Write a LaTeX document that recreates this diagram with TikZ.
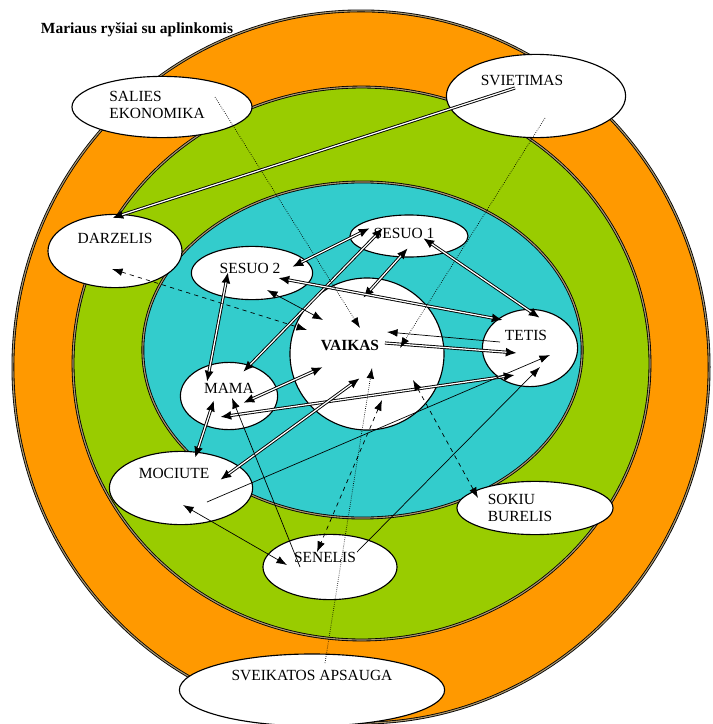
\documentclass[tikz,border=0pt]{standalone}
\usepackage{fontspec}
\setmainfont{Liberation Serif}
\usetikzlibrary{positioning,calc,shapes.geometric,arrows.meta}
\definecolor{ringorange}{RGB}{255,153,0}
\definecolor{ringgreen}{RGB}{153,204,0}
\definecolor{ringcyan}{RGB}{51,204,204}
\definecolor{ringseam}{RGB}{170,150,110}
\tikzset{bubble/.style={draw, thick, ellipse, fill=white, inner sep=0pt},
% the rings get a double border like in the original drawing
ring/.style={draw, line width=0.6pt, double=ringseam, double distance=0.8pt},
line/.style={line width=0.5pt, >={Latex[length=7.5pt,width=5.5pt]}},
% the double arrows: a thick black line with a white core, the core stops short of the tips
twin/.style={line width=2.2pt, >={Latex[length=8pt,width=6.5pt]},
  postaction={draw=white, line width=0.9pt, arrows=-, shorten >=7.5pt, shorten <=#1}},
twin/.default=7.5pt
}
\begin{document}
\begin{tikzpicture}[x=0.025cm, y=-0.025cm, font=\fontsize{11}{12.5}\selectfont]
  \useasboundingbox (0,0) rectangle (712,724);
  \draw[ring, fill=ringorange] (361,367) ellipse [x radius=8.7cm, y radius=8.9cm];
  \draw[ring, fill=ringgreen] (361.5,363.5) ellipse [x radius=7.21cm, y radius=6.91cm];
  \draw[ring, fill=ringcyan] (362.5,350) ellipse [x radius=5.49cm, y radius=4.2cm];
  \node[anchor=west, font=\fontsize{11}{13}\selectfont\bfseries] (title) at (36,30) {Mariaus ryšiai su aplinkomis};
  \node[bubble, minimum width=4.5cm, minimum height=1.53cm, label={[shift={(-5,-2)}, align=left]center:SALIES\\EKONOMIKA}] (salies) at (162,107) {};
  \node[bubble, minimum width=4.48cm, minimum height=2.08cm, label={[shift={(-14,-16)}]center:SVIETIMAS}] (svietimas) at (536,96) {};
  \node[bubble, minimum width=3.35cm, minimum height=1.83cm, label={[shift={(0,-13)}]center:DARZELIS}] (darzelis) at (115,251) {};
  \node[bubble, minimum width=2.95cm, minimum height=1.05cm, label={[shift={(-5,-3)}]center:SESUO 1}] (sesuoA) at (409,236) {};
  \node[bubble, minimum width=3.03cm, minimum height=1.33cm, label={[shift={(-2,-5)}]center:SESUO 2}] (sesuoB) at (252,273) {};
  \node[bubble, minimum width=3.85cm, minimum height=3.8cm, label={[shift={(-17,-9)}]center:\textbf{VAIKAS}}] (vaikas) at (367,354) {};
  \node[bubble, minimum width=2.38cm, minimum height=1.93cm, label={[shift={(-4,-13)}]center:TETIS}] (tetis) at (530,348) {};
  \node[bubble, minimum width=2.43cm, minimum height=1.68cm, label={[shift={(0,-8)}]center:MAMA}] (mama) at (229,396) {};
  \node[bubble, minimum width=3.58cm, minimum height=1.83cm, label={[shift={(-7,-15)}]center:MOCIUTE}] (mociute) at (181,488) {};
  \node[bubble, minimum width=3.9cm, minimum height=1.33cm, label={[shift={(-15,0)}, align=left]center:SOKIU\\BURELIS}] (sokiu) at (535,508) {};
  \node[bubble, minimum width=3.35cm, minimum height=1.63cm, label={[shift={(-5,-10)}]center:SENELIS}] (senelis) at (330,567) {};
  \node[bubble, minimum width=6.63cm, minimum height=1.8cm, label={[shift={(0,-15)}]center:SVEIKATOS APSAUGA}] (sveikatos) at (312,690) {};
  % family links
  \draw[twin, <->] ($(sesuoA)+(-39,-8)$) -- ($(sesuoB)+(40,-6)$);
  \draw[twin, <->] ($(sesuoA)+(-26,-8)$) -- ($(mama)+(14,-24)$);
  \draw[twin, <->] ($(sesuoA)+(-1,12)$) -- ($(vaikas)+(-4,-56)$);
  \draw[twin, <->] ($(sesuoA)+(14,2)$) -- ($(tetis)+(10,-30)$);
  \draw[twin, <->] ($(sesuoB)+(26,5)$) -- ($(tetis)+(-27,-28)$);
  \draw[line, <->] ($(sesuoB)+(15,17)$) -- ($(vaikas)+(-44,-34)$);
  \draw[twin, <->] ($(sesuoB)+(-24,-1)$) -- ($(mama)+(-22,-14)$);
  \draw[twin=0pt, ->] ($(vaikas)+(18,-11)$) -- ($(tetis)+(-13,5)$);
  \draw[line, ->] ($(tetis)+(-30,-6)$) -- ($(vaikas)+(20,-22)$);
  \draw[twin, <->] ($(vaikas)+(-44,13)$) -- ($(mama)+(14,7)$);
  \draw[twin, <->] ($(mama)+(-9,21)$) -- ($(tetis)+(-15,27)$);
  \draw[line, ->] ($(mociute)+(26,14)$) -- ($(tetis)+(20,7)$);
  \draw[line, ->] ($(senelis)+(27,-15)$) -- ($(tetis)+(10,19)$);
  \draw[twin, <->] ($(mociute)+(14,-30)$) -- ($(mama)+(-15,4)$);
  \draw[twin, <->] ($(vaikas)+(-7,24)$) -- ($(mociute)+(39,-8)$);
  \draw[line, ->] ($(senelis)+(-30,0)$) -- ($(mama)+(3,2)$);
  \draw[line, <->] ($(mociute)+(2,17)$) -- ($(senelis)+(-43,-2)$);
  % outer circles
  \draw[twin=0pt, ->] ($(svietimas)+(-21,-8)$) -- ($(darzelis)+(-3,-33)$);
  \draw[line, dashed, <->] ($(darzelis)+(-3,18)$) -- ($(vaikas)+(-60,-24)$);
  \draw[line, dashed, <->] ($(vaikas)+(15,46)$) -- ($(senelis)+(-13,-15)$);
  \draw[line, dashed, <->] ($(vaikas)+(46,26)$) -- ($(sokiu)+(-57,-10)$);
  \draw[line, densely dotted, ->] ($(salies)+(53,-10)$) -- ($(vaikas)+(-7,-26)$);
  \draw[line, densely dotted, ->] ($(svietimas)+(9,22)$) -- ($(vaikas)+(33,-6)$);
  \draw[line, densely dotted, ->] ($(sveikatos)+(13,-27)$) -- ($(vaikas)+(5,14)$);
\end{tikzpicture}
\end{document}
